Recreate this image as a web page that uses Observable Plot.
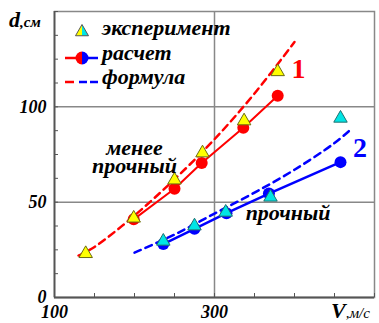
<!DOCTYPE html>
<html><head><meta charset="utf-8">
<script src="https://cdn.jsdelivr.net/npm/d3@7"></script>
<script src="https://cdn.jsdelivr.net/npm/@observablehq/plot@0.6"></script>
<style>body{margin:0;background:#fff}#chart{width:379px;height:323px}</style>
</head><body><div id="chart"></div>
<script>
// Series 1 (red, less strong)
const redExpV = [139, 199, 250, 285, 337, 379];
const redExpD = [23, 41.6, 61.6, 75.8, 92.6, 118.4];
const redCalcV = [199, 250, 284, 336, 379];
const redCalcD = [41, 57, 70.5, 89, 105.8];
const redFormV = [130, 150, 200, 250, 300, 350, 400];
const redFormD = [22, 26.5, 43, 62, 83, 107, 134];
// Series 2 (blue, strong)
const blueExpV = [236, 275, 314, 370, 457.5];
const blueExpD = [29.5, 37.5, 44.7, 52.6, 94];
const blueCalcV = [236, 275, 315, 368, 457.5];
const blueCalcD = [28, 36, 44.2, 54.5, 71];
const blueFormV = [200, 250, 300, 350, 400, 450, 470];
const blueFormD = [23.5, 33, 44, 55, 67, 81, 88];
// axes
const xTicks = [100, 150, 200, 250, 300, 350, 400, 450, 500];
const yTicks = [0, 12.5, 25, 37.5, 50, 62.5, 75, 87.5, 100, 112.5, 125, 137.5, 150];
const xLabels = [100, 300];
const yLabels = [0, 50, 100];
const gridX = [300];
const gridY = [50, 100];
const legendItems = ["эксперимент", "расчет", "формула"];
const notes = [
  {x: 200, y: 78.5, text: "менее"},
  {x: 200, y: 69, text: "прочный"},
  {x: 392, y: 44.5, text: "прочный"}
];
const curveLabels = [
  {x: 405, y: 120, text: "1", color: "#ff0000"},
  {x: 482, y: 78.5, text: "2", color: "#0000ff"}
];

const zip = (V, D) => V.map((v, i) => ({v, d: D[i]}));
const redExp = zip(redExpV, redExpD), redCalc = zip(redCalcV, redCalcD), redForm = zip(redFormV, redFormD);
const blueExp = zip(blueExpV, blueExpD), blueCalc = zip(blueCalcV, blueCalcD), blueForm = zip(blueFormV, blueFormD);

const RED = "#ff0000", BLUE = "#0000ff";
const FONT = "Liberation Serif";

const plot = Plot.plot({
  width: 379, height: 323,
  marginLeft: 54, marginRight: 5, marginTop: 11, marginBottom: 26,
  x: {domain: [100, 500]},
  y: {domain: [0, 150]},
  style: {fontSize: "18px", color: "#000", background: "#fff"},
  marks: [
    Plot.ruleY(gridY, {stroke: "#888", strokeWidth: 1.5}),
    Plot.ruleX(gridX, {stroke: "#888", strokeWidth: 1.5}),
    Plot.frame({stroke: "#888", strokeWidth: 1.5}),
    Plot.ruleY([0], {stroke: "#555", strokeWidth: 1.8}),
    Plot.ruleX([100], {stroke: "#555", strokeWidth: 1.8}),
    Plot.axisX({ticks: xTicks, tickSize: 4, dy: -4, tickFormat: () => "", stroke: "#555", label: null}),
    Plot.axisY({ticks: yTicks, tickSize: 4, dx: 4, tickFormat: () => "", stroke: "#555", label: null}),
    Plot.axisX({ticks: xLabels, tickSize: 0, tickPadding: 8, fontSize: 18, label: null}),
    Plot.axisY({ticks: yLabels, tickSize: 0, tickPadding: 8, fontSize: 18, label: null}),
    Plot.line(redForm, {x: "v", y: "d", stroke: RED, strokeWidth: 2.5, strokeDasharray: "7,5", curve: "catmull-rom"}),
    Plot.line(blueForm, {x: "v", y: "d", stroke: BLUE, strokeWidth: 2.5, strokeDasharray: "7,5", curve: "catmull-rom"}),
    Plot.line(redCalc, {x: "v", y: "d", stroke: RED, strokeWidth: 2}),
    Plot.line(blueCalc, {x: "v", y: "d", stroke: BLUE, strokeWidth: 2.5}),
    Plot.dot(redCalc, {x: "v", y: "d", r: 6, fill: RED}),
    Plot.dot(blueCalc, {x: "v", y: "d", r: 6, fill: BLUE}),
    Plot.dot(redExp, {x: "v", y: "d", symbol: "triangle", r: 5, fill: "#ffff00", stroke: "#6b6b10", strokeWidth: 1}),
    Plot.dot(blueExp, {x: "v", y: "d", symbol: "triangle", r: 5, fill: "#00e5e5", stroke: "#207070", strokeWidth: 1}),
    Plot.text(notes, {x: "x", y: "y", text: "text", fill: "#000", fontSize: 22}),
    Plot.text(curveLabels, {x: "x", y: "y", text: "text", fill: "color", fontSize: 28, className: "upright"})
  ]
});
document.getElementById("chart").append(plot);

const svg = d3.select(plot);
// legend and axis titles added to the Plot svg
const g = svg.append("g");
const tri = (cx, cy, s) => { const h = s * Math.sqrt(3) / 2; return [[cx, cy - h * 2 / 3], [cx - s / 2, cy + h / 3], [cx + s / 2, cy + h / 3]]; };
const t = tri(82, 32, 13);
g.append("path").attr("d", `M${t[0]}L${t[1]}L82,${t[1][1]}Z`).attr("fill", "#ffff00");
g.append("path").attr("d", `M${t[0]}L82,${t[2][1]}L${t[2]}Z`).attr("fill", "#00e5e5");
g.append("path").attr("d", `M${t[0]}L${t[1]}L${t[2]}Z`).attr("fill", "none").attr("stroke", "#555").attr("stroke-width", 1);
g.append("line").attr("x1", 65).attr("x2", 82).attr("y1", 58).attr("y2", 58).attr("stroke", RED).attr("stroke-width", 2.5);
g.append("line").attr("x1", 82).attr("x2", 98).attr("y1", 58).attr("y2", 58).attr("stroke", BLUE).attr("stroke-width", 2.5);
g.append("path").attr("d", d3.arc()({innerRadius: 0, outerRadius: 6.5, startAngle: Math.PI, endAngle: 2 * Math.PI})).attr("transform", "translate(82,58)").attr("fill", RED);
g.append("path").attr("d", d3.arc()({innerRadius: 0, outerRadius: 6.5, startAngle: 0, endAngle: Math.PI})).attr("transform", "translate(82,58)").attr("fill", BLUE);
g.append("line").attr("x1", 65).attr("x2", 74).attr("y1", 82).attr("y2", 82).attr("stroke", RED).attr("stroke-width", 2.5);
g.append("line").attr("x1", 79).attr("x2", 87).attr("y1", 82).attr("y2", 82).attr("stroke", BLUE).attr("stroke-width", 2.5);
g.append("line").attr("x1", 90).attr("x2", 98).attr("y1", 82).attr("y2", 82).attr("stroke", BLUE).attr("stroke-width", 2.5);
legendItems.forEach((s, i) => {
  g.append("text").attr("x", 102).attr("y", 35 + i * 24.5).attr("font-size", 22).attr("text-anchor", "start").attr("fill", "#000").text(s);
});
const yt = g.append("text").attr("x", 9).attr("y", 27).attr("text-anchor", "start").attr("fill", "#000");
yt.append("tspan").attr("font-size", 22).text("d");
yt.append("tspan").attr("font-size", 15).text(",см");
const xt = g.append("text").attr("x", 331).attr("y", 318).attr("text-anchor", "start").attr("fill", "#000");
xt.append("tspan").attr("font-size", 22).text("V");
xt.append("tspan").attr("font-size", 15).style("font-weight", "normal").text(",м/с");

// font styling applied directly to every text
svg.selectAll("text").style("font-family", FONT).style("font-weight", "bold").style("font-style", "italic");
svg.selectAll(".upright text").style("font-style", "normal");
</script>
</body></html>
